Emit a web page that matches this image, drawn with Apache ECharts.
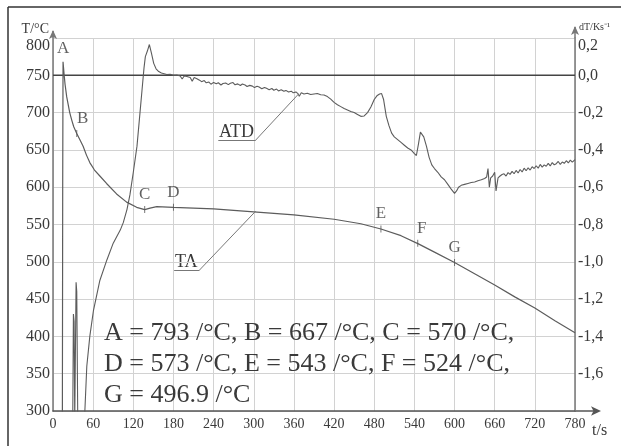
<!DOCTYPE html>
<html>
<head>
<meta charset="utf-8">
<script src="https://cdn.jsdelivr.net/npm/echarts@6.0.0/dist/echarts.min.js"></script>
<style>
  html, body { margin: 0; padding: 0; background: #fff; }
  #main { width: 621px; height: 446px; }
</style>
</head>
<body>
<div id="main"></div>
<script>
// TA - cooling curve, left axis (°C)
const taTime = [14, 14.5, 15, 16.5, 18, 20.5, 25, 28, 31, 35.5, 40, 45, 50, 55, 62, 70, 80, 95, 110, 125, 137, 145, 155, 180,
  240, 300, 360, 420, 460, 490, 520, 546, 570, 600, 630, 660, 690, 720, 750, 780];
const taTemp = [290, 600, 768, 752, 738, 721, 700, 690, 681, 672, 664, 655, 643, 633, 623, 615, 605, 591, 580, 573, 570, 572, 574, 573,
  571, 567, 563, 557, 551, 544, 535, 524, 513, 499, 484, 469, 453, 438, 421, 405];

// ATD - derivative curve, right axis (dT/Ks^-1)
const atdTime = [29.5, 30.5, 31.5, 32.5, 33.5, 34.5, 35.5, 37,
  47, 50.5, 55, 60.5, 70, 80.5, 90, 100.5, 105, 110.5, 115, 120, 125.5, 130, 133, 136, 138, 141, 144, 147, 150.5,
  154, 158, 162, 166, 170, 175, 180, 185, 190, 193, 196, 200, 205, 208, 211, 215, 219, 222, 226, 229, 233, 236, 240, 244,
  247, 251, 254, 258, 262, 265, 269, 272, 276, 280, 283, 287, 290, 294, 298, 301, 305, 308, 312, 316, 319, 323, 327,
  330, 334, 337, 341, 345, 348, 352, 356, 359, 363, 366, 368, 371, 375, 380, 385, 390, 395, 400, 405, 410,
  415, 420, 425, 430, 435, 440, 445, 450, 455, 460,
  465, 470, 475, 480, 484, 488, 491, 494, 498, 502, 506, 510, 515, 520, 525, 530, 535, 540, 543, 546, 549, 551,
  554, 558, 562, 566, 570, 575, 580, 585, 590, 595, 600, 603, 606, 610, 615, 620, 625, 630, 635, 640, 645, 648,
  650, 652, 654, 657, 660, 662, 665, 668, 671, 674, 677, 680, 683, 686, 689, 692, 695, 698, 701, 704, 707, 710,
  713, 716, 719, 722, 725, 728, 731, 734, 737, 740, 743, 746, 749, 752, 755, 758, 761, 764, 767, 770, 773, 776, 780];
const atdRate = [-1.85, -1.28, -1.32, -1.85, -1.85, -1.11, -1.16, -1.85,
  -1.85, -1.56, -1.40, -1.26, -1.10, -0.99, -0.90, -0.83, -0.79, -0.72, -0.64, -0.52, -0.38, -0.20, -0.08, 0.04, 0.10, 0.13, 0.165, 0.12, 0.064,
  0.035, 0.02, 0.012, 0.008, 0.004, 0.006, 0.0, 0.002, -0.004, -0.02, -0.004, -0.006, -0.012, -0.032, -0.012, -0.018, -0.026, -0.034, -0.028, -0.04, -0.036, -0.048, -0.038, -0.045,
  -0.04, -0.052, -0.044, -0.041, -0.05, -0.043, -0.039, -0.051, -0.046, -0.055, -0.047, -0.052, -0.06, -0.054, -0.058, -0.066, -0.059, -0.063, -0.072, -0.065, -0.07, -0.077, -0.071,
  -0.08, -0.074, -0.084, -0.078, -0.086, -0.081, -0.09, -0.085, -0.094, -0.089, -0.098, -0.112, -0.094, -0.1, -0.096, -0.103, -0.1, -0.098, -0.104, -0.106, -0.114,
  -0.128, -0.145, -0.158, -0.168, -0.178, -0.186, -0.194, -0.2, -0.21, -0.22,
  -0.218, -0.2, -0.17, -0.13, -0.11, -0.1, -0.098, -0.13, -0.22, -0.27, -0.31, -0.33, -0.345, -0.36, -0.375, -0.39, -0.4, -0.42, -0.43, -0.37, -0.305, -0.3,
  -0.33, -0.38, -0.44, -0.48, -0.5, -0.52, -0.545, -0.56, -0.585, -0.61, -0.633, -0.62, -0.6, -0.59, -0.585, -0.58, -0.575, -0.572, -0.565, -0.56, -0.553, -0.545,
  -0.5, -0.6, -0.55, -0.54, -0.52, -0.62, -0.55, -0.54, -0.532, -0.528, -0.54, -0.522, -0.531, -0.515, -0.528, -0.51, -0.524, -0.505, -0.518, -0.498, -0.512, -0.496,
  -0.508, -0.49, -0.5, -0.485, -0.498, -0.478, -0.492, -0.48, -0.488, -0.472, -0.486, -0.468, -0.48, -0.474, -0.462, -0.478, -0.465, -0.472, -0.458, -0.47, -0.455, -0.466, -0.452];

// dark reference line at dT = 0 across the time range
const zeroLineTime = [0, 780];
const zeroLineRate = [0, 0];

// characteristic points on TA
const pointNames = ['A', 'B', 'C', 'D', 'E', 'F', 'G'];
const pointTime = [15, 35.5, 137, 180, 490, 545, 600];
const pointTemp = [768, 672, 570, 573, 544, 525, 499];

// summary text
const summaryLines = [
  'A = 793 /°C, B = 667 /°C, C = 570 /°C,',
  'D = 573 /°C, E = 543 /°C, F = 524 /°C,',
  'G = 496.9 /°C'
];

const serif = 'Liberation Serif';
const ink = '#3a3a3a';
const curve = '#5c5c5c';
const gridGray = '#d2d2d2';

// label nudges for the point letters (px)
const pointLabelShift = [[0, -2], [6, 0], [0, 0], [0, 0], [0, 0], [4, 0], [0, 0]];

const chart = echarts.init(document.getElementById('main'));

const pointData = pointNames.map((n, i) => ({
  name: n,
  value: [pointTime[i], pointTemp[i]],
  symbolSize: i === 0 ? 0 : [1, 7],
  label: { offset: pointLabelShift[i] }
}));

// top tick label sits a little lower, under the axis name
const topRich = { low: { padding: [15, 0, 0, 0] } };

function rateLabel(v) {
  const r = Math.round(v * 10) / 10;
  if (r <= -1.8) return '';
  const s = (r === 0 ? 0 : r).toFixed(1).replace('.', ',');
  return r >= 0.2 ? '{low|' + s + '}' : s;
}

chart.setOption({
  animation: false,
  grid: { left: 53, right: 46, top: 38, bottom: 35 },
  xAxis: {
    type: 'value',
    min: 0,
    max: 780,
    interval: 60,
    axisLine: {
      show: true,
      onZero: false,
      lineStyle: { color: '#555', width: 1.5 },
      symbol: ['none', 'arrow'],
      symbolSize: [7, 10],
      symbolOffset: [0, 26]
    },
    axisTick: { show: false },
    axisLabel: { color: ink, fontFamily: serif, fontSize: 14, margin: 6 },
    splitLine: { show: true, lineStyle: { color: gridGray, width: 1 } }
  },
  yAxis: [
    {
      type: 'value',
      min: 300,
      max: 800,
      interval: 50,
      axisLine: {
        show: true,
        lineStyle: { color: '#777', width: 1.5 },
        symbol: ['none', 'arrow'],
        symbolSize: [6, 9],
        symbolOffset: [0, 8]
      },
      axisTick: { show: false },
      axisLabel: {
        color: ink, fontFamily: serif, fontSize: 16, margin: 3,
        formatter: v => (v === 800 ? '{low|800}' : String(v)),
        rich: topRich
      },
      splitLine: { show: true, lineStyle: { color: gridGray, width: 1 } }
    },
    {
      type: 'value',
      min: -1.8,
      max: 0.2,
      interval: 0.2,
      position: 'right',
      axisLine: {
        show: true,
        lineStyle: { color: '#777', width: 1.5 },
        symbol: ['none', 'arrow'],
        symbolSize: [6, 9],
        symbolOffset: [0, 12]
      },
      axisTick: { show: false },
      axisLabel: {
        color: ink, fontFamily: serif, fontSize: 16, margin: 3,
        formatter: rateLabel,
        rich: topRich
      },
      splitLine: { show: false }
    }
  ],
  series: [
    {
      name: 'zero',
      type: 'line',
      yAxisIndex: 1,
      data: zeroLineTime.map((t, i) => [t, zeroLineRate[i]]),
      showSymbol: false,
      silent: true,
      lineStyle: { color: '#444', width: 1.5 },
      z: 2
    },
    {
      name: 'TA',
      type: 'line',
      yAxisIndex: 0,
      data: taTime.map((t, i) => [t, taTemp[i]]),
      showSymbol: false,
      lineStyle: { color: curve, width: 1.2 },
      markLine: {
        silent: true,
        symbol: ['none', 'none'],
        label: { show: false },
        lineStyle: { color: '#777', width: 1, type: 'solid' },
        data: [
          [{ coord: [181, 489] }, { coord: [219, 489] }],
          [{ coord: [219, 489] }, { coord: [303, 568] }]
        ]
      },
      z: 3
    },
    {
      name: 'ATD',
      type: 'line',
      yAxisIndex: 1,
      data: atdTime.map((t, i) => [t, atdRate[i]]),
      showSymbol: false,
      lineStyle: { color: curve, width: 1.1 },
      markLine: {
        silent: true,
        symbol: ['none', 'none'],
        label: { show: false },
        lineStyle: { color: '#777', width: 1, type: 'solid' },
        data: [
          [{ coord: [247, -0.347] }, { coord: [303, -0.347] }],
          [{ coord: [303, -0.347] }, { coord: [367, -0.1] }]
        ]
      },
      z: 3
    },
    {
      name: 'points',
      type: 'scatter',
      yAxisIndex: 0,
      symbol: 'rect',
      itemStyle: { color: '#555' },
      label: {
        show: true,
        position: 'top',
        distance: 3,
        formatter: '{b}',
        color: ink,
        fontFamily: serif,
        fontSize: 17
      },
      data: pointData,
      z: 4
    }
  ],
  graphic: [
    // figure frame (left and top edges)
    { type: 'line', shape: { x1: 8, y1: 7, x2: 8, y2: 446 }, style: { stroke: '#333', lineWidth: 1.5 } },
    { type: 'line', shape: { x1: 8, y1: 7, x2: 621, y2: 7 }, style: { stroke: '#333', lineWidth: 1.5 } },
    // axis extensions toward arrows
    { type: 'line', shape: { x1: 53, y1: 38, x2: 53, y2: 31 }, style: { stroke: '#777', lineWidth: 1.5 } },
    { type: 'line', shape: { x1: 575, y1: 38, x2: 575, y2: 27 }, style: { stroke: '#777', lineWidth: 1.5 } },
    { type: 'line', shape: { x1: 575, y1: 411, x2: 598, y2: 411 }, style: { stroke: '#555', lineWidth: 1.5 } },
    // axis names
    { type: 'text', x: 49, y: 29, style: { text: 'T/°C', font: '14px "Liberation Serif"', fill: ink, textAlign: 'right', textVerticalAlign: 'middle' } },
    { type: 'text', x: 579, y: 27, style: { text: 'dT/Ks⁻¹', font: '10px "Liberation Serif"', fill: ink, textAlign: 'left', textVerticalAlign: 'middle' } },
    { type: 'text', x: 592, y: 431, style: { text: 't/s', font: '16px "Liberation Serif"', fill: ink, textAlign: 'left', textVerticalAlign: 'middle' } },
    // curve names
    { type: 'text', x: 219, y: 132, style: { text: 'ATD', font: '18px "Liberation Serif"', fill: ink, textAlign: 'left', textVerticalAlign: 'middle' } },
    { type: 'text', x: 175, y: 262, style: { text: 'TA', font: '18px "Liberation Serif"', fill: ink, textAlign: 'left', textVerticalAlign: 'middle' } },
    // summary block
    ...summaryLines.map((s, i) => ({
      type: 'text', x: 104, y: 333 + i * 31,
      style: { text: s, font: '26px "Liberation Serif"', fill: ink, textAlign: 'left', textVerticalAlign: 'middle' },
      z: 5
    }))
  ]
});
</script>
</body>
</html>
